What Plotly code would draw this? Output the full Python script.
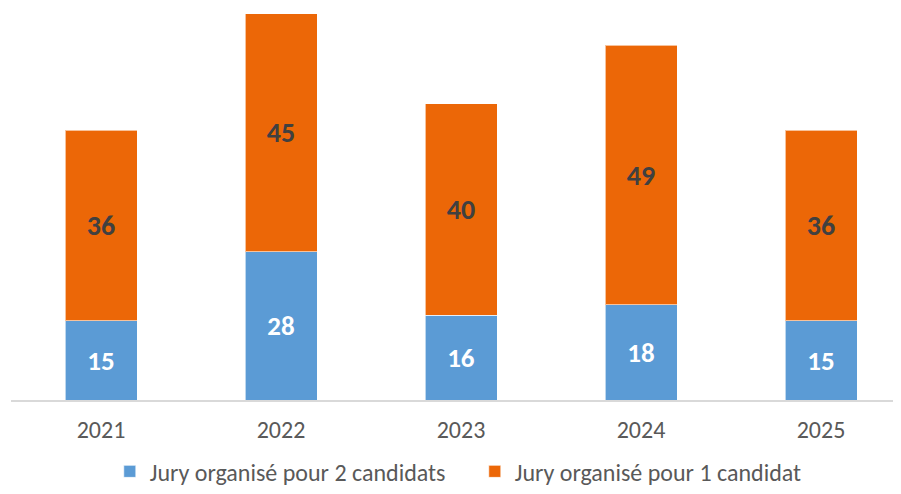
import plotly.graph_objects as go

years = ["2021", "2022", "2023", "2024", "2025"]
jury_2 = [15, 28, 16, 18, 15]
jury_1 = [36, 45, 40, 49, 36]
name_2 = "Jury organisé pour 2 candidats"
name_1 = "Jury organisé pour 1 candidat"

FONT = "Carlito, Lato, 'Liberation Sans', sans-serif"

fig = go.Figure()
fig.add_trace(go.Bar(
    x=years, y=jury_2, name=name_2,
    marker=dict(color="#5B9BD5", line=dict(color="rgba(255,255,255,0.6)", width=1)),
    text=[str(v) for v in jury_2], textposition="inside", insidetextanchor="middle",
    textfont=dict(family=FONT, size=27, color="white", weight="bold"),
    constraintext="none",
))
fig.add_trace(go.Bar(
    x=years, y=jury_1, name=name_1,
    marker=dict(color="#EC6707", line=dict(color="rgba(255,255,255,0.6)", width=1)),
    text=[str(v) for v in jury_1], textposition="inside", insidetextanchor="middle",
    textfont=dict(family=FONT, size=28, color="#404040", weight="bold"),
    constraintext="none",
))

fig.update_layout(
    barmode="stack",
    bargap=0.6,
    width=885, height=478,
    margin=dict(l=3, r=0, t=2, b=86, autoexpand=False),
    paper_bgcolor="white", plot_bgcolor="white",
    font=dict(family=FONT, color="#595959", size=24),
    showlegend=True,
    legend=dict(orientation="h", x=0.112, xanchor="left", y=-0.184, yanchor="middle",
                font=dict(size=24, color="#595959"), traceorder="normal",
                entrywidth=320, entrywidthmode="pixels"),
    xaxis=dict(range=[-0.5, 4.4], showgrid=False, showline=True,
               linecolor="#D9D9D9", linewidth=1.5, ticks="",
               ticklabelstandoff=7,
               tickfont=dict(size=24, color="#595959")),
    yaxis=dict(range=[0, 73.7], visible=False, showgrid=False),
)

fig.write_html("out.html")
